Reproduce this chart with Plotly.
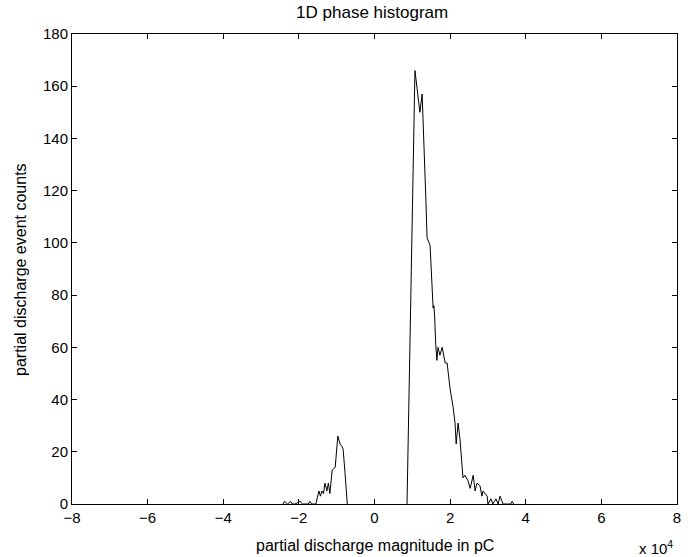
import plotly.graph_objects as go

# magnitude in units of 1e4 pC, counts per bin
neg_magnitude = [-2.42, -2.38, -2.30, -2.22, -2.18, -2.10, -1.97, -1.90, -1.75,
                 -1.71, -1.66, -1.55, -1.47, -1.43, -1.39, -1.35, -1.31, -1.26,
                 -1.22, -1.18, -1.12, -1.04, -0.97, -0.91, -0.86, -0.83, -0.78,
                 -0.72]
neg_counts = [0, 1, 0, 1, 0, 0, 1, 0, 0,
              1, 0, 0, 5, 3, 5, 4, 8, 5,
              8, 4, 13, 14, 26, 23, 22, 21, 12,
              0]

pos_magnitude = [0.86, 1.07, 1.20, 1.26, 1.36, 1.39, 1.47, 1.55, 1.57, 1.59,
                 1.62, 1.65, 1.68, 1.73, 1.79, 1.87, 1.92, 2.00, 2.08, 2.13,
                 2.16, 2.21, 2.26, 2.34, 2.39, 2.47, 2.53, 2.61, 2.66, 2.71,
                 2.79, 2.84, 2.87, 2.98, 3.00, 3.08, 3.13, 3.21, 3.27, 3.32,
                 3.40, 3.60, 3.64, 3.68]
pos_counts = [0, 166, 150, 157, 116, 102, 99, 75, 76, 72,
              61, 55, 60, 57, 60, 54, 54, 44, 37, 31,
              23, 31, 25, 10, 11, 9, 6, 11, 5, 8,
              7, 3, 5, 3, 0, 2, 0, 2, 0, 3,
              0, 0, 1, 0]

x_ticks = [-8, -6, -4, -2, 0, 2, 4, 6, 8]
y_ticks = [0, 20, 40, 60, 80, 100, 120, 140, 160, 180]

FONT = "Liberation Sans, Arial, Helvetica, sans-serif"


def main() -> None:
    x = neg_magnitude + [None] + pos_magnitude
    y = neg_counts + [None] + pos_counts

    fig = go.Figure()
    fig.add_trace(
        go.Scatter(
            x=x,
            y=y,
            mode="lines",
            line=dict(color="black", width=1),
            connectgaps=False,
            showlegend=False,
        )
    )

    axis_style = dict(
        showline=True,
        linecolor="black",
        linewidth=1,
        mirror="ticks",
        ticks="inside",
        ticklen=5,
        tickcolor="black",
        showgrid=False,
        zeroline=False,
        tickfont=dict(size=15, color="black"),
    )

    fig.update_xaxes(
        range=[-8, 8],
        tickvals=x_ticks,
        ticktext=[("\u2212" + str(-v)) if v < 0 else str(v) for v in x_ticks],
        **axis_style,
    )
    fig.update_yaxes(range=[0, 180], tickvals=y_ticks, **axis_style)

    # axis titles and exponent label
    fig.add_annotation(
        text="partial discharge magnitude in pC",
        xref="paper", yref="paper", x=0.5, y=-0.089,
        xanchor="center", yanchor="middle", showarrow=False,
        font=dict(size=16, color="black"),
    )
    fig.add_annotation(
        text="partial discharge event counts",
        xref="paper", yref="paper", x=-0.086, y=0.5,
        xanchor="center", yanchor="middle", textangle=-90, showarrow=False,
        font=dict(size=16, color="black"),
    )
    fig.add_annotation(
        text="x 10<sup>4</sup>",
        xref="paper", yref="paper", x=0.997, y=-0.092,
        xanchor="right", yanchor="middle", showarrow=False,
        font=dict(size=15, color="black"),
    )

    fig.update_layout(
        width=693,
        height=557,
        margin=dict(l=72, r=16, t=34, b=53),
        paper_bgcolor="white",
        plot_bgcolor="white",
        font=dict(family=FONT, color="black"),
        title=dict(
            text="1D phase histogram",
            x=0.537,
            xanchor="center",
            y=1 - 12 / 557,
            yanchor="middle",
            font=dict(size=17),
        ),
    )

    fig.write_html(
        "out.html",
        config={"displayModeBar": False},
        post_script="document.body.style.margin='0';",
    )


if __name__ == "__main__":
    main()
